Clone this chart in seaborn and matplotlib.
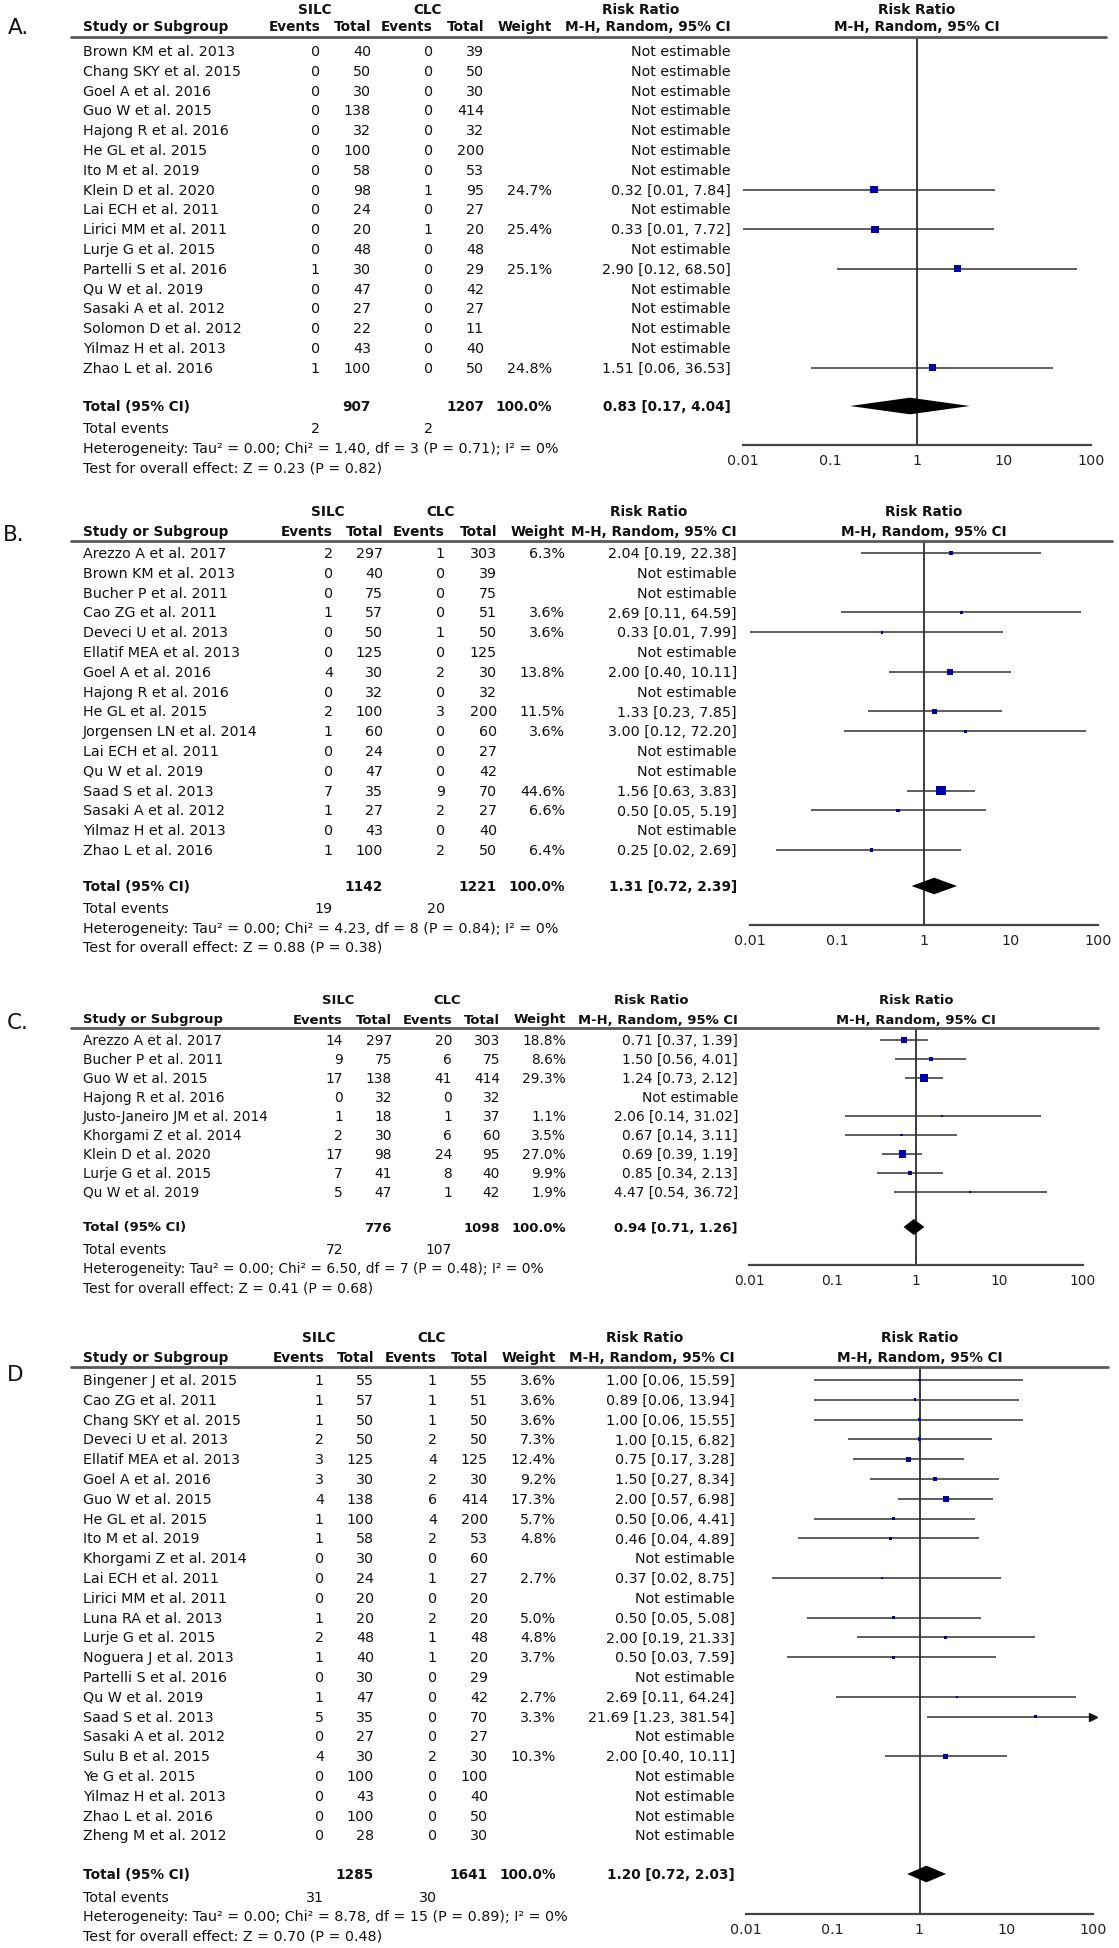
import matplotlib
matplotlib.use("Agg")
import matplotlib.pyplot as plt
import matplotlib.transforms as mtransforms
from matplotlib.lines import Line2D
import seaborn as sns
import pandas as pd
import numpy as np

sns.set_theme(style="white")
plt.rcParams['font.family'] = ['DejaVu Sans']

# ---------------- DATA ----------------
A_studies = ["Brown KM et al. 2013", "Chang SKY et al. 2015", "Goel A et al. 2016", "Guo W et al. 2015",
             "Hajong R et al. 2016", "He GL et al. 2015", "Ito M et al. 2019", "Klein D et al. 2020",
             "Lai ECH et al. 2011", "Lirici MM et al. 2011", "Lurje G et al. 2015", "Partelli S et al. 2016",
             "Qu W et al. 2019", "Sasaki A et al. 2012", "Solomon D et al. 2012", "Yilmaz H et al. 2013",
             "Zhao L et al. 2016"]
A_silc_ev = [0, 0, 0, 0, 0, 0, 0, 0, 0, 0, 0, 1, 0, 0, 0, 0, 1]
A_silc_n = [40, 50, 30, 138, 32, 100, 58, 98, 24, 20, 48, 30, 47, 27, 22, 43, 100]
A_clc_ev = [0, 0, 0, 0, 0, 0, 0, 1, 0, 1, 0, 0, 0, 0, 0, 0, 0]
A_clc_n = [39, 50, 30, 414, 32, 200, 53, 95, 27, 20, 48, 29, 42, 27, 11, 40, 50]
A_weight = [None, None, None, None, None, None, None, 24.7, None, 25.4, None, 25.1, None, None, None, None, 24.8]
A_rr = [None, None, None, None, None, None, None, 0.32, None, 0.33, None, 2.90, None, None, None, None, 1.51]
A_lo = [None, None, None, None, None, None, None, 0.01, None, 0.01, None, 0.12, None, None, None, None, 0.06]
A_hi = [None, None, None, None, None, None, None, 7.84, None, 7.72, None, 68.50, None, None, None, None, 36.53]
A_total = [907, 1207]
A_total_events = [2, 2]
A_pooled = [0.83, 0.17, 4.04]
A_het = "Heterogeneity: Tau² = 0.00; Chi² = 1.40, df = 3 (P = 0.71); I² = 0%"
A_test = "Test for overall effect: Z = 0.23 (P = 0.82)"

B_studies = ["Arezzo A et al. 2017", "Brown KM et al. 2013", "Bucher P et al. 2011", "Cao ZG et al. 2011",
             "Deveci U et al. 2013", "Ellatif MEA et al. 2013", "Goel A et al. 2016", "Hajong R et al. 2016",
             "He GL et al. 2015", "Jorgensen LN et al. 2014", "Lai ECH et al. 2011", "Qu W et al. 2019",
             "Saad S et al. 2013", "Sasaki A et al. 2012", "Yilmaz H et al. 2013", "Zhao L et al. 2016"]
B_silc_ev = [2, 0, 0, 1, 0, 0, 4, 0, 2, 1, 0, 0, 7, 1, 0, 1]
B_silc_n = [297, 40, 75, 57, 50, 125, 30, 32, 100, 60, 24, 47, 35, 27, 43, 100]
B_clc_ev = [1, 0, 0, 0, 1, 0, 2, 0, 3, 0, 0, 0, 9, 2, 0, 2]
B_clc_n = [303, 39, 75, 51, 50, 125, 30, 32, 200, 60, 27, 42, 70, 27, 40, 50]
B_weight = [6.3, None, None, 3.6, 3.6, None, 13.8, None, 11.5, 3.6, None, None, 44.6, 6.6, None, 6.4]
B_rr = [2.04, None, None, 2.69, 0.33, None, 2.00, None, 1.33, 3.00, None, None, 1.56, 0.50, None, 0.25]
B_lo = [0.19, None, None, 0.11, 0.01, None, 0.40, None, 0.23, 0.12, None, None, 0.63, 0.05, None, 0.02]
B_hi = [22.38, None, None, 64.59, 7.99, None, 10.11, None, 7.85, 72.20, None, None, 3.83, 5.19, None, 2.69]
B_total = [1142, 1221]
B_total_events = [19, 20]
B_pooled = [1.31, 0.72, 2.39]
B_het = "Heterogeneity: Tau² = 0.00; Chi² = 4.23, df = 8 (P = 0.84); I² = 0%"
B_test = "Test for overall effect: Z = 0.88 (P = 0.38)"

C_studies = ["Arezzo A et al. 2017", "Bucher P et al. 2011", "Guo W et al. 2015", "Hajong R et al. 2016",
             "Justo-Janeiro JM et al. 2014", "Khorgami Z et al. 2014", "Klein D et al. 2020",
             "Lurje G et al. 2015", "Qu W et al. 2019"]
C_silc_ev = [14, 9, 17, 0, 1, 2, 17, 7, 5]
C_silc_n = [297, 75, 138, 32, 18, 30, 98, 41, 47]
C_clc_ev = [20, 6, 41, 0, 1, 6, 24, 8, 1]
C_clc_n = [303, 75, 414, 32, 37, 60, 95, 40, 42]
C_weight = [18.8, 8.6, 29.3, None, 1.1, 3.5, 27.0, 9.9, 1.9]
C_rr = [0.71, 1.50, 1.24, None, 2.06, 0.67, 0.69, 0.85, 4.47]
C_lo = [0.37, 0.56, 0.73, None, 0.14, 0.14, 0.39, 0.34, 0.54]
C_hi = [1.39, 4.01, 2.12, None, 31.02, 3.11, 1.19, 2.13, 36.72]
C_total = [776, 1098]
C_total_events = [72, 107]
C_pooled = [0.94, 0.71, 1.26]
C_het = "Heterogeneity: Tau² = 0.00; Chi² = 6.50, df = 7 (P = 0.48); I² = 0%"
C_test = "Test for overall effect: Z = 0.41 (P = 0.68)"

D_studies = ["Bingener J et al. 2015", "Cao ZG et al. 2011", "Chang SKY et al. 2015", "Deveci U et al. 2013",
             "Ellatif MEA et al. 2013", "Goel A et al. 2016", "Guo W et al. 2015", "He GL et al. 2015",
             "Ito M et al. 2019", "Khorgami Z et al. 2014", "Lai ECH et al. 2011", "Lirici MM et al. 2011",
             "Luna RA et al. 2013", "Lurje G et al. 2015", "Noguera J et al. 2013", "Partelli S et al. 2016",
             "Qu W et al. 2019", "Saad S et al. 2013", "Sasaki A et al. 2012", "Sulu B et al. 2015",
             "Ye G et al. 2015", "Yilmaz H et al. 2013", "Zhao L et al. 2016", "Zheng M et al. 2012"]
D_silc_ev = [1, 1, 1, 2, 3, 3, 4, 1, 1, 0, 0, 0, 1, 2, 1, 0, 1, 5, 0, 4, 0, 0, 0, 0]
D_silc_n = [55, 57, 50, 50, 125, 30, 138, 100, 58, 30, 24, 20, 20, 48, 40, 30, 47, 35, 27, 30, 100, 43, 100, 28]
D_clc_ev = [1, 1, 1, 2, 4, 2, 6, 4, 2, 0, 1, 0, 2, 1, 1, 0, 0, 0, 0, 2, 0, 0, 0, 0]
D_clc_n = [55, 51, 50, 50, 125, 30, 414, 200, 53, 60, 27, 20, 20, 48, 20, 29, 42, 70, 27, 30, 100, 40, 50, 30]
D_weight = [3.6, 3.6, 3.6, 7.3, 12.4, 9.2, 17.3, 5.7, 4.8, None, 2.7, None, 5.0, 4.8, 3.7, None, 2.7, 3.3,
            None, 10.3, None, None, None, None]
D_rr = [1.00, 0.89, 1.00, 1.00, 0.75, 1.50, 2.00, 0.50, 0.46, None, 0.37, None, 0.50, 2.00, 0.50, None, 2.69,
        21.69, None, 2.00, None, None, None, None]
D_lo = [0.06, 0.06, 0.06, 0.15, 0.17, 0.27, 0.57, 0.06, 0.04, None, 0.02, None, 0.05, 0.19, 0.03, None, 0.11,
        1.23, None, 0.40, None, None, None, None]
D_hi = [15.59, 13.94, 15.55, 6.82, 3.28, 8.34, 6.98, 4.41, 4.89, None, 8.75, None, 5.08, 21.33, 7.59, None, 64.24,
        381.54, None, 10.11, None, None, None, None]
D_total = [1285, 1641]
D_total_events = [31, 30]
D_pooled = [1.20, 0.72, 2.03]
D_het = "Heterogeneity: Tau² = 0.00; Chi² = 8.78, df = 15 (P = 0.89); I² = 0%"
D_test = "Test for overall effect: Z = 0.70 (P = 0.48)"

tick_values = [0.01, 0.1, 1, 10, 100]
tick_labels = ["0.01", "0.1", "1", "10", "100"]

# ---------------- LAYOUT (pixels) ----------------
W, H = 1119, 1949
layouts = {
    "A": dict(label="A.", lab_x=8, lab_y=28, hdr1=10, hdr2=27, line=38, row0=52, sp=19.8,
              tot=407, tev=429, het=449, test=469, axis=446, k=1.0,
              study=83, ev1=320, tot1=371, ev2=433, tot2=484, wt=552, rr=731, rrc=641,
              p0=743, p1=1091, lx0=71, lx1=1106),
    "B": dict(label="B.", lab_x=3, lab_y=535, hdr1=512, hdr2=532, line=542, row0=554, sp=19.8,
              tot=887, tev=909, het=929, test=948, axis=926, k=1.0,
              study=83, ev1=333, tot1=383, ev2=445, tot2=497, wt=565, rr=737, rrc=649,
              p0=750, p1=1098, lx0=71, lx1=1112),
    "C": dict(label="C.", lab_x=7, lab_y=1023, hdr1=1001, hdr2=1020, line=1029, row0=1041, sp=19.0,
              tot=1228, tev=1250, het=1269, test=1288, axis=1266, k=0.96,
              study=83, ev1=343, tot1=392, ev2=452, tot2=500, wt=566, rr=738, rrc=651,
              p0=749, p1=1083, lx0=71, lx1=1098),
    "D": dict(label="D", lab_x=7, lab_y=1375, hdr1=1338, hdr2=1358, line=1368, row0=1381, sp=19.8,
              tot=1875, tev=1898, het=1917, test=1937, axis=1915, k=1.0,
              study=83, ev1=324, tot1=374, ev2=437, tot2=488, wt=556, rr=735, rrc=645,
              p0=746, p1=1093, lx0=71, lx1=1108),
}

panels = {
    "A": (A_studies, A_silc_ev, A_silc_n, A_clc_ev, A_clc_n, A_weight, A_rr, A_lo, A_hi,
          A_total, A_total_events, A_pooled, A_het, A_test),
    "B": (B_studies, B_silc_ev, B_silc_n, B_clc_ev, B_clc_n, B_weight, B_rr, B_lo, B_hi,
          B_total, B_total_events, B_pooled, B_het, B_test),
    "C": (C_studies, C_silc_ev, C_silc_n, C_clc_ev, C_clc_n, C_weight, C_rr, C_lo, C_hi,
          C_total, C_total_events, C_pooled, C_het, C_test),
    "D": (D_studies, D_silc_ev, D_silc_n, D_clc_ev, D_clc_n, D_weight, D_rr, D_lo, D_hi,
          D_total, D_total_events, D_pooled, D_het, D_test),
}

FS = 10.3
FSB = 9.8
SQ_COLOR = "#0000A8"
LINE_COLOR = "#333333"

fig = plt.figure(figsize=(W / 100, H / 100), dpi=100)
fig.patch.set_facecolor("white")


def fx(px):
    return px / W


for key, L in layouts.items():
    (studies, sev, sn, cev, cn, wts, rr, lo, hi, tots, tev, pooled, het, test) = panels[key]
    n = len(studies)
    k = L["k"]
    ax = fig.add_axes([fx(L["p0"]), 1 - L["axis"] / H, (L["p1"] - L["p0"]) / W, (L["axis"] - L["line"]) / H])
    ax.set_facecolor("none")
    ax.set_xscale("log")
    ax.set_xlim(0.01, 100)

    def to_row(py, L=L):
        return (py - L["row0"]) / L["sp"]

    ax.set_ylim(to_row(L["axis"]), to_row(L["line"]))
    for s in ["top", "left", "right"]:
        ax.spines[s].set_visible(False)
    ax.spines["bottom"].set_color("#444444")
    ax.spines["bottom"].set_linewidth(1.6)
    ax.set_xticks(tick_values)
    ax.set_xticklabels(tick_labels)
    ax.xaxis.set_minor_locator(matplotlib.ticker.NullLocator())
    ax.tick_params(axis="x", direction="inout", length=9, width=1.2, color="#444444",
                   labelsize=FS * k, pad=1, labelcolor="#222222")
    ax.set_yticks([])
    ax.grid(False)
    ax.axvline(1, color="#1a1a1a", lw=1.2, zorder=1)

    # CI lines and squares
    df = pd.DataFrame({"row": np.arange(n), "rr": rr, "lo": lo, "hi": hi, "w": wts})
    est = df.dropna().copy()
    est["hi_clip"] = est["hi"].clip(upper=100)
    ax.hlines(est["row"], est["lo"], est["hi_clip"], color=LINE_COLOR, lw=1.1, zorder=2)
    sizes = {w: 1.1 * w * k * k for w in est["w"].unique()}
    sns.scatterplot(data=est, x="rr", y="row", size="w", sizes=sizes, marker="s",
                    color=SQ_COLOR, linewidth=0, legend=False, ax=ax, zorder=3)
    over = est[est["hi"] > 100]
    if len(over):
        ax.plot([100] * len(over), over["row"], marker=">", ls="none", color="#111111",
                ms=6, clip_on=False, zorder=4)
    ax.set_xlabel("")
    ax.set_ylabel("")

    # pooled diamond
    ty = to_row(L["tot"])
    pr, pl, ph = pooled
    ax.fill([pl, pr, ph, pr], [ty, ty - 0.42, ty, ty + 0.42], color="black", zorder=4, lw=0)

    tr = mtransforms.blended_transform_factory(fig.transFigure, ax.transData)

    def T(px, yrow, s, ha="right", bold=False, size=None):
        if size is None:
            size = (FSB if bold else FS) * k
        ax.text(fx(px), yrow, s, transform=tr, ha=ha, va="center", fontsize=size,
                fontweight="bold" if bold else "normal", color="#111111", clip_on=False)

    # panel label
    T(L["lab_x"], to_row(L["lab_y"]), L["label"], ha="left", size=15.5)

    # headers
    h1 = to_row(L["hdr1"])
    h2 = to_row(L["hdr2"])
    T((L["ev1"] - 49 * k + L["tot1"]) / 2 - 6 * k, h1, "SILC", ha="center", bold=True)
    T((L["ev2"] - 49 * k + L["tot2"]) / 2 - 6 * k, h1, "CLC", ha="center", bold=True)
    T(L["rrc"], h1, "Risk Ratio", ha="center", bold=True)
    pc = (L["p0"] + L["p1"]) / 2
    T(pc, h1, "Risk Ratio", ha="center", bold=True)
    T(L["study"], h2, "Study or Subgroup", ha="left", bold=True)
    T(L["ev1"], h2, "Events", bold=True)
    T(L["tot1"], h2, "Total", bold=True)
    T(L["ev2"], h2, "Events", bold=True)
    T(L["tot2"], h2, "Total", bold=True)
    T(L["wt"], h2, "Weight", bold=True)
    T(L["rr"], h2, "M-H, Random, 95% CI", bold=True)
    T(pc, h2, "M-H, Random, 95% CI", ha="center", bold=True)
    fig.add_artist(Line2D([fx(L["lx0"]), fx(L["lx1"])], [1 - L["line"] / H] * 2,
                          color="#5a5a5a", lw=2.0))

    # rows
    for i in range(n):
        T(L["study"], i, studies[i], ha="left")
        T(L["ev1"], i, str(sev[i]))
        T(L["tot1"], i, str(sn[i]))
        T(L["ev2"], i, str(cev[i]))
        T(L["tot2"], i, str(cn[i]))
        if wts[i] is not None:
            T(L["wt"], i, f"{wts[i]:.1f}%")
            T(L["rr"], i, f"{rr[i]:.2f} [{lo[i]:.2f}, {hi[i]:.2f}]")
        else:
            T(L["rr"], i, "Not estimable")

    # totals
    T(L["study"], ty, "Total (95% CI)", ha="left", bold=True)
    T(L["tot1"], ty, str(tots[0]), bold=True)
    T(L["tot2"], ty, str(tots[1]), bold=True)
    T(L["wt"], ty, "100.0%", bold=True)
    T(L["rr"], ty, f"{pr:.2f} [{pl:.2f}, {ph:.2f}]", bold=True)
    ey = to_row(L["tev"])
    T(L["study"], ey, "Total events", ha="left")
    T(L["ev1"], ey, str(tev[0]))
    T(L["ev2"], ey, str(tev[1]))
    T(L["study"], to_row(L["het"]), het, ha="left")
    T(L["study"], to_row(L["test"]), test, ha="left")

fig.savefig("out.png", dpi=100, facecolor="white")
